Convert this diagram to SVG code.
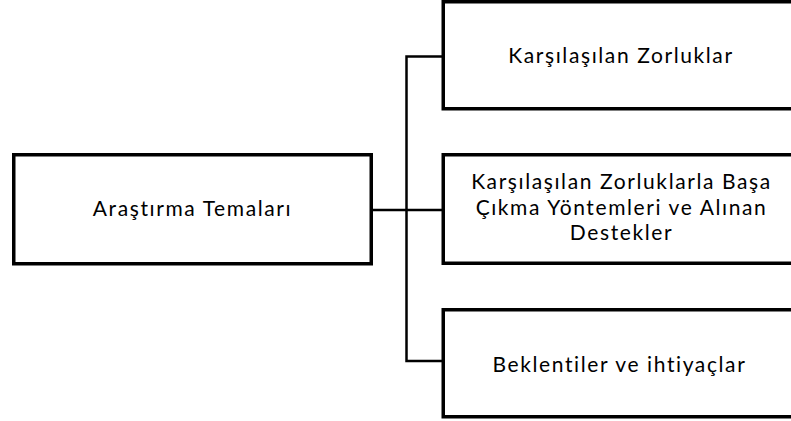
<svg xmlns="http://www.w3.org/2000/svg" width="791" height="421" viewBox="0 0 791 421">
<style>
.box{fill:#ffffff;stroke:#000000;stroke-width:3.5}
.lbl{font-family:Lato,"Open Sans",sans-serif;font-size:21px;letter-spacing:1.6px;font-variant-ligatures:none;fill:#000000;text-anchor:middle}
.conn{fill:none;stroke:#000000;stroke-width:2.5}
</style>
<rect width="791" height="421" fill="#ffffff"/>
<g id="connectors">
<path class="conn" d="M372 210 H443"/>
<path class="conn" d="M443 56.5 H406.5 V361 H443"/>
</g>
<g id="node-root">
<rect class="box" x="13.75" y="154.75" width="357.5" height="109"/>
<text class="lbl" x="192.5" y="215.5">Araştırma Temaları</text>
</g>
<g id="node-zorluklar">
<rect class="box" x="443.25" y="1.75" width="360" height="107"/>
<text class="lbl" x="621" y="63">Karşılaşılan Zorluklar</text>
</g>
<g id="node-basa-cikma">
<rect class="box" x="443.25" y="154.75" width="360" height="108.5"/>
<text class="lbl" x="621.5" y="189">Karşılaşılan Zorluklarla Başa</text>
<text class="lbl" x="621.5" y="214.5">Çıkma Yöntemleri ve Alınan</text>
<text class="lbl" x="621.5" y="240">Destekler</text>
</g>
<g id="node-beklentiler">
<rect class="box" x="443.25" y="309.75" width="360" height="107"/>
<text class="lbl" x="619.5" y="372">Beklentiler ve ihtiyaçlar</text>
</g>
</svg>
